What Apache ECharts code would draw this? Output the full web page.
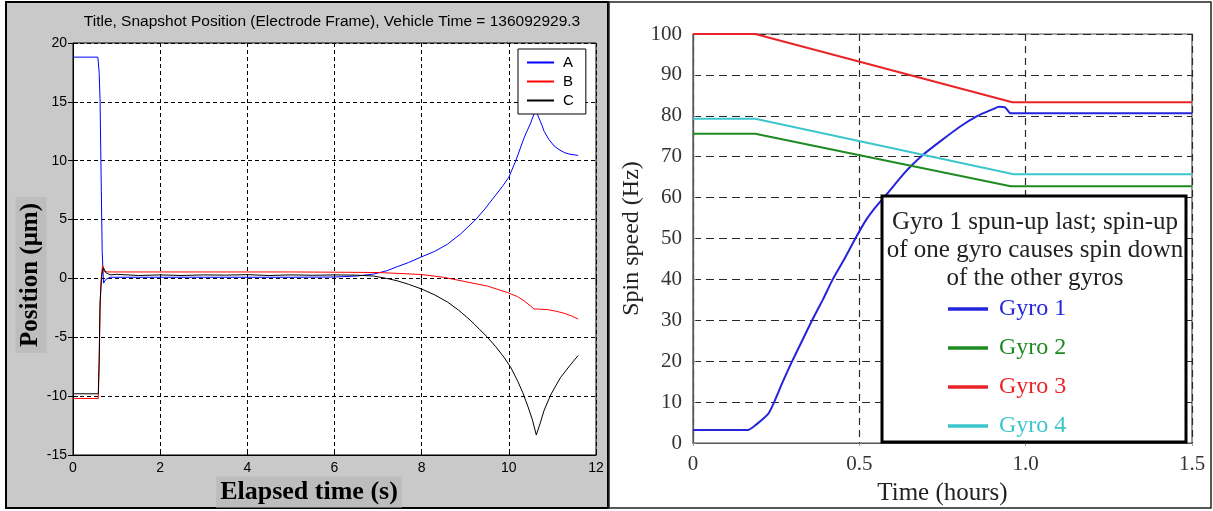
<!DOCTYPE html>
<html>
<head>
<meta charset="utf-8">
<script src="https://cdn.jsdelivr.net/npm/echarts@6/dist/echarts.min.js"></script>
<style>
html,body{margin:0;padding:0;background:#fff;}
#c{width:1213px;height:511px;}
</style>
</head>
<body>
<div id="c"></div>
<script>
// ---------- Left chart data (Elapsed time s, Position um) ----------
const leftTitle = 'Title, Snapshot Position (Electrode Frame), Vehicle Time = 136092929.3';
const leftXTicks = [0, 2, 4, 6, 8, 10, 12];
const leftYTicks = [-15, -10, -5, 0, 5, 10, 15, 20];
const aT = [0, 0.57, 0.6, 0.62, 0.65, 0.67, 0.7, 0.75, 0.85, 1.5, 3, 5, 6, 6.5, 6.9, 7.2, 7.44, 7.7, 8.0, 8.3, 8.59, 8.9, 9.24, 9.45, 9.66, 9.85, 10.0, 10.16, 10.35, 10.5, 10.6, 10.66, 10.75, 10.81, 10.92, 11.04, 11.15, 11.27, 11.4, 11.59];
const aV = [18.8, 18.8, 17.5, 15.3, 7.4, 2.3, -0.4, -0.1, 0.1, 0.1, 0.1, 0.1, 0.12, 0.2, 0.37, 0.65, 1.0, 1.35, 1.84, 2.3, 2.9, 3.8, 5.0, 5.9, 6.9, 7.8, 8.6, 10.0, 11.95, 13.2, 14.2, 13.9, 13.1, 12.5, 11.8, 11.25, 10.95, 10.7, 10.55, 10.45];
const bT = [0, 0.58, 0.6, 0.62, 0.64, 0.66, 0.68, 0.72, 0.8, 1.5, 3, 5, 6, 7, 7.5, 8, 8.5, 8.97, 9.51, 9.97, 10.2, 10.35, 10.5, 10.58, 10.65, 10.89, 11.1, 11.27, 11.45, 11.59];
const bV = [-10.2, -10.2, -7.5, -3, -0.5, 0.6, 1.1, 0.6, 0.55, 0.55, 0.55, 0.55, 0.53, 0.5, 0.42, 0.33, 0.1, -0.25, -0.65, -1.2, -1.55, -1.9, -2.35, -2.6, -2.6, -2.65, -2.8, -2.96, -3.2, -3.45];
const cT = [0, 0.58, 0.6, 0.62, 0.66, 0.7, 0.75, 0.85, 1, 1.5, 2, 2.5, 3, 3.5, 4, 4.5, 5, 5.5, 6, 6.5, 6.9, 7.2, 7.44, 7.7, 8, 8.3, 8.59, 8.85, 9.13, 9.32, 9.51, 9.7, 9.89, 10.05, 10.2, 10.32, 10.44, 10.54, 10.63, 10.72, 10.81, 10.96, 11.08, 11.19, 11.4, 11.59];
const cV = [-9.8, -9.8, -7, -2, 0.3, 0.9, 0.5, 0.3, 0.35, 0.25, 0.3, 0.25, 0.3, 0.28, 0.32, 0.25, 0.3, 0.27, 0.3, 0.28, 0.2, 0.0, -0.2, -0.5, -0.9, -1.4, -2.0, -2.7, -3.6, -4.3, -5.0, -5.8, -6.7, -7.6, -8.7, -9.7, -10.9, -12.0, -13.3, -12.3, -11.2, -9.9, -9.1, -8.4, -7.4, -6.55];
const leftNames = ['A', 'B', 'C'];

// ---------- Right chart data (Time hours, Spin speed Hz) ----------
const rightXTicks = ['0', '0.5', '1.0', '1.5'];
const rightYTicks = [0, 10, 20, 30, 40, 50, 60, 70, 80, 90, 100];
const g1T = [0, 0.166, 0.19, 0.226, 0.244, 0.27, 0.298, 0.328, 0.358, 0.39, 0.42, 0.455, 0.488, 0.52, 0.55, 0.584, 0.63, 0.654, 0.689, 0.744, 0.8, 0.854, 0.904, 0.919, 0.939, 0.955, 1.5];
const g1V = [3.2, 3.2, 4.5, 7.1, 10, 15, 20, 25, 30, 35, 40, 45, 50, 54.5, 57.8, 61, 65.5, 67.6, 70.3, 73.8, 77.2, 79.9, 81.7, 82.2, 82, 80.6, 80.6];
const g2T = [0, 0.187, 0.955, 1.5];
const g2V = [75.6, 75.6, 62.8, 62.8];
const g3T = [0, 0.187, 0.96, 1.5];
const g3V = [100, 100, 83.3, 83.3];
const g4T = [0, 0.187, 0.964, 1.5];
const g4V = [79.3, 79.3, 65.7, 65.7];
const rightNames = ['Gyro 1', 'Gyro 2', 'Gyro 3', 'Gyro 4'];
const rightNote = 'Gyro 1 spun-up last; spin-up\nof one gyro causes spin down\nof the other gyros';

const zip = (t, v) => t.map((x, i) => [x, v[i]]);

const leftColors = ['#0000ff', '#ff0000', '#000000'];
const rightColors = ['#2424dc', '#1e8a22', '#ea2426', '#3cc6cc'];

const chart = echarts.init(document.getElementById('c'), null, {renderer: 'canvas'});

const option = {
  animation: false,
  backgroundColor: '#ffffff',
  grid: [
    {left: 73, right: 1213 - 596, top: 43, bottom: 511 - 455, show: true, backgroundColor: '#ffffff', borderColor: '#000', borderWidth: 1, z: -1},
    {left: 693, right: 1213 - 1192, top: 34, bottom: 511 - 446, show: true, backgroundColor: '#ffffff', borderColor: '#555', borderWidth: 1.2, z: -1}
  ],
  xAxis: [
    {
      type: 'value', gridIndex: 0, min: leftXTicks[0], max: leftXTicks[leftXTicks.length - 1], interval: 2,
      axisLine: {show: true, onZero: false, lineStyle: {color: '#000', width: 1}},
      axisTick: {show: true, inside: true, length: 5, lineStyle: {color: '#000'}},
      axisLabel: {color: '#000', fontFamily: 'Liberation Sans', fontSize: 14, margin: 6},
      splitLine: {show: true, lineStyle: {color: '#000', type: [4, 3], width: 1}}
    },
    {
      type: 'value', gridIndex: 1, min: 0, max: 1.5, interval: 0.5,
      name: 'Time (hours)', nameLocation: 'middle', nameGap: 38,
      nameTextStyle: {color: '#222', fontFamily: 'Liberation Serif', fontSize: 25},
      axisLine: {show: true, onZero: false, lineStyle: {color: '#555', width: 1.2}},
      axisTick: {show: true, length: 3, lineStyle: {color: '#999'}},
      axisLabel: {color: '#333', fontFamily: 'Liberation Serif', fontSize: 21, margin: 11,
        formatter: v => rightXTicks[Math.round(v / 0.5)]},
      splitLine: {show: true, lineStyle: {color: '#2a2a2a', type: [7, 5], width: 1.2}}
    },
    {
      type: 'value', gridIndex: 0, position: 'top', min: leftXTicks[0], max: leftXTicks[leftXTicks.length - 1], interval: 2,
      axisLine: {show: false}, axisLabel: {show: false}, splitLine: {show: false},
      axisTick: {show: true, inside: true, length: 5, lineStyle: {color: '#000'}}
    }
  ],
  yAxis: [
    {
      type: 'value', gridIndex: 0, min: leftYTicks[0], max: leftYTicks[leftYTicks.length - 1], interval: 5,
      axisLine: {show: true, onZero: false, lineStyle: {color: '#000', width: 1}},
      axisTick: {show: true, inside: true, length: 5, lineStyle: {color: '#000'}},
      axisLabel: {color: '#000', fontFamily: 'Liberation Sans', fontSize: 14, margin: 6},
      splitLine: {show: true, lineStyle: {color: '#000', type: [4, 3], width: 1}}
    },
    {
      type: 'value', gridIndex: 1, min: rightYTicks[0], max: rightYTicks[rightYTicks.length - 1], interval: 10,
      name: 'Spin speed (Hz)', nameLocation: 'middle', nameGap: 49,
      nameTextStyle: {color: '#222', fontFamily: 'Liberation Serif', fontSize: 24},
      axisLine: {show: true, onZero: false, lineStyle: {color: '#555', width: 1.2}},
      axisTick: {show: false},
      axisLabel: {color: '#333', fontFamily: 'Liberation Serif', fontSize: 21, margin: 11},
      splitLine: {show: true, lineStyle: {color: '#2a2a2a', type: [8, 5], width: 1.2}}
    },
    {
      type: 'value', gridIndex: 0, position: 'right', min: leftYTicks[0], max: leftYTicks[leftYTicks.length - 1], interval: 5,
      axisLine: {show: false}, axisLabel: {show: false}, splitLine: {show: false},
      axisTick: {show: true, inside: true, length: 5, lineStyle: {color: '#000'}}
    },
    {
      type: 'value', gridIndex: 1, position: 'right', min: rightYTicks[0], max: rightYTicks[rightYTicks.length - 1], interval: 10,
      axisLine: {show: false}, axisLabel: {show: false}, splitLine: {show: false},
      axisTick: {show: true, length: 3, lineStyle: {color: '#777'}}
    }
  ],
  legend: [
    {
      data: leftNames, orient: 'vertical', left: 518, top: 49, icon: 'rect',
      itemWidth: 27, itemHeight: 2, itemGap: 4, padding: [6, 12, 6, 9],
      backgroundColor: '#fff', borderColor: '#000', borderWidth: 1, borderRadius: 0,
      textStyle: {color: '#000', fontFamily: 'Liberation Sans', fontSize: 15, padding: [0, 0, 0, 4]},
      z: 6
    },
    {
      data: rightNames.map((n, i) => ({name: n, textStyle: {color: rightColors[i]}})),
      orient: 'vertical', left: 948, top: 297, icon: 'rect',
      itemWidth: 40, itemHeight: 3.5, itemGap: 15, padding: 0,
      textStyle: {fontFamily: 'Liberation Serif', fontSize: 24, padding: [0, 0, 0, 6]},
      z: 20
    }
  ],
  graphic: [
    {type: 'rect', z: -10, silent: true, shape: {x: 6, y: 2, width: 602, height: 506}, style: {fill: '#c9c9c9', stroke: '#000', lineWidth: 2}},
    {type: 'rect', z: -10, silent: true, shape: {x: 609, y: 2, width: 602, height: 506}, style: {fill: '#fff', stroke: '#222', lineWidth: 1.5}},
    {type: 'text', z: 5, silent: true, x: 332, y: 22, style: {text: leftTitle, font: '15.5px "Liberation Sans"', fill: '#000', align: 'center', verticalAlign: 'middle'}},
    {type: 'text', z: 5, silent: true, x: 31, y: 275, rotation: Math.PI / 2,
      style: {text: 'Position (μm)', font: 'bold 25px "Liberation Serif"', fill: '#000', align: 'center', verticalAlign: 'middle', backgroundColor: '#bdbdbd', padding: [4, 6, 2, 6]}},
    {type: 'text', z: 5, silent: true, x: 309, y: 492,
      style: {text: 'Elapsed time (s)', font: 'bold 26px "Liberation Serif"', fill: '#000', align: 'center', verticalAlign: 'middle', backgroundColor: '#bdbdbd', padding: [3, 4, 2, 4]}},
    {type: 'rect', z: 10, silent: true, shape: {x: 882, y: 196, width: 304, height: 246}, style: {fill: '#fff', stroke: '#000', lineWidth: 3}},
    {type: 'text', z: 11, silent: true, x: 1035, y: 208,
      style: {text: rightNote, font: '25px "Liberation Serif"', fill: '#222', align: 'center', verticalAlign: 'top', lineHeight: 28}}
  ],
  series: [
    {name: leftNames[0], type: 'line', xAxisIndex: 0, yAxisIndex: 0, data: zip(aT, aV), showSymbol: false, symbol: 'none', lineStyle: {color: leftColors[0], width: 1}, itemStyle: {color: leftColors[0]}, z: 3},
    {name: leftNames[1], type: 'line', xAxisIndex: 0, yAxisIndex: 0, data: zip(bT, bV), showSymbol: false, symbol: 'none', lineStyle: {color: leftColors[1], width: 1}, itemStyle: {color: leftColors[1]}, z: 3},
    {name: leftNames[2], type: 'line', xAxisIndex: 0, yAxisIndex: 0, data: zip(cT, cV), showSymbol: false, symbol: 'none', lineStyle: {color: leftColors[2], width: 1}, itemStyle: {color: leftColors[2]}, z: 3},
    {name: rightNames[0], type: 'line', xAxisIndex: 1, yAxisIndex: 1, data: zip(g1T, g1V), smooth: 0.2, showSymbol: false, symbol: 'none', lineStyle: {color: rightColors[0], width: 2}, itemStyle: {color: rightColors[0]}, z: 3},
    {name: rightNames[1], type: 'line', xAxisIndex: 1, yAxisIndex: 1, data: zip(g2T, g2V), showSymbol: false, symbol: 'none', lineStyle: {color: rightColors[1], width: 2}, itemStyle: {color: rightColors[1]}, z: 3},
    {name: rightNames[2], type: 'line', xAxisIndex: 1, yAxisIndex: 1, data: zip(g3T, g3V), showSymbol: false, symbol: 'none', lineStyle: {color: rightColors[2], width: 2}, itemStyle: {color: rightColors[2]}, z: 3},
    {name: rightNames[3], type: 'line', xAxisIndex: 1, yAxisIndex: 1, data: zip(g4T, g4V), showSymbol: false, symbol: 'none', lineStyle: {color: rightColors[3], width: 2}, itemStyle: {color: rightColors[3]}, z: 3}
  ]
};
chart.setOption(option);
</script>
</body>
</html>
